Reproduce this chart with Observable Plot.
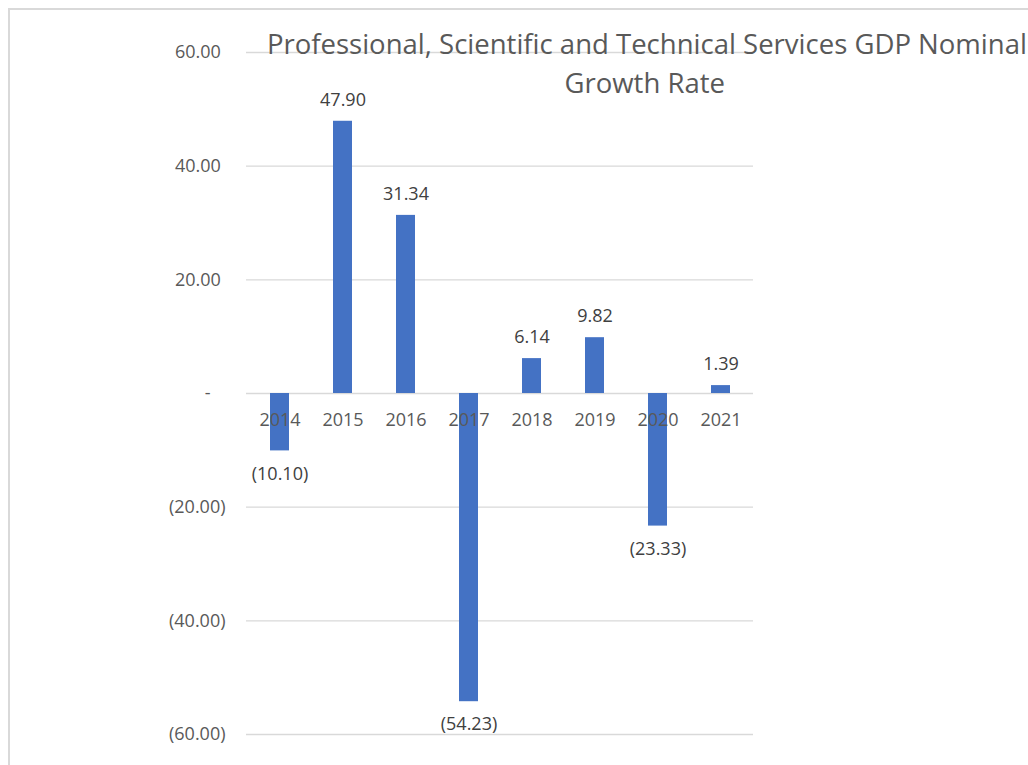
<!DOCTYPE html>
<html>
<head>
<meta charset="utf-8">
<script src="https://cdn.jsdelivr.net/npm/d3@7"></script>
<script src="https://cdn.jsdelivr.net/npm/@observablehq/plot@0.6"></script>
<style>
  html, body { margin: 0; padding: 0; background: #fff; overflow: hidden; }
  #wrap { position: relative; width: 1028px; height: 765px; overflow: hidden; }
  #frame { position: absolute; left: 8px; top: 8px; right: -10px; bottom: -10px;
           border-left: 2px solid #d9d9d9; border-top: 2px solid #d9d9d9; }
  #chart { position: absolute; left: 0; top: 0; }
  .tline { position: absolute; white-space: nowrap; font-family: "Open Sans", sans-serif;
           font-size: 27px; color: #595959; line-height: 1; }
</style>
</head>
<body>
<div id="wrap">
  <div id="frame"></div>
  <div id="chart"></div>
  <div id="t1" class="tline">Professional, Scientific and Technical Services GDP Nominal</div>
  <div id="t2" class="tline">Growth Rate</div>
</div>
<script>
const years = ["2014", "2015", "2016", "2017", "2018", "2019", "2020", "2021"];
const growth = [-10.10, 47.90, 31.34, -54.23, 6.14, 9.82, -23.33, 1.39];
const yTicks = [-60, -40, -20, 0, 20, 40, 60];

const data = years.map((year, i) => ({year, value: growth[i]}));

function acct(v) {
  if (v === 0) return "-\u2007\u2008";
  if (v < 0) return "(" + Math.abs(v).toFixed(2) + ")";
  return v.toFixed(2) + "\u2008";
}

const chart = Plot.plot({
  width: 1028,
  height: 765,
  marginLeft: 246,
  marginRight: 275,
  marginTop: 52,
  marginBottom: 31,
  style: {fontFamily: "'Open Sans', sans-serif", fontSize: "18px", color: "#595959", background: "transparent"},
  x: {domain: years, padding: 0, axis: null},
  y: {domain: [-60, 60]},
  marks: [
    Plot.gridY(yTicks, {stroke: "#d9d9d9", strokeOpacity: 1, strokeWidth: 1.3}),
    Plot.axisY(yTicks, {anchor: "left", tickSize: 0, tickPadding: 21, tickFormat: acct, fill: "#595959", fontSize: 18, label: null}),
    Plot.barY(data, {x: "year", y: "value", fill: "#4472C4", insetLeft: 22, insetRight: 22}),
    Plot.text(data, {x: "year", y: () => 0, text: "year", dy: 27, fill: "#595959", fontSize: 18}),
    Plot.text(data.filter(d => d.value >= 0), {x: "year", y: "value", text: d => acct(d.value).trim(), dy: -21, fill: "#404040", fontSize: 18}),
    Plot.text(data.filter(d => d.value < 0), {x: "year", y: "value", text: d => acct(d.value), dy: 23, fill: "#404040", fontSize: 18})
  ]
});
document.getElementById("chart").appendChild(chart);

// Title: fit to the reference's narrow font width
const t1 = document.getElementById("t1");
const t2 = document.getElementById("t2");
const w1 = t1.getBoundingClientRect().width;
const w2 = t2.getBoundingClientRect().width;
const s = 760 / w1;
function place(el, w, cx, top) {
  el.style.left = (cx - w / 2) + "px";
  el.style.top = top + "px";
  el.style.transformOrigin = "50% 50%";
  el.style.transform = "scaleX(" + s + ")";
}
place(t1, w1, 647, 30);
place(t2, w2, 645, 69);
</script>
</body>
</html>
